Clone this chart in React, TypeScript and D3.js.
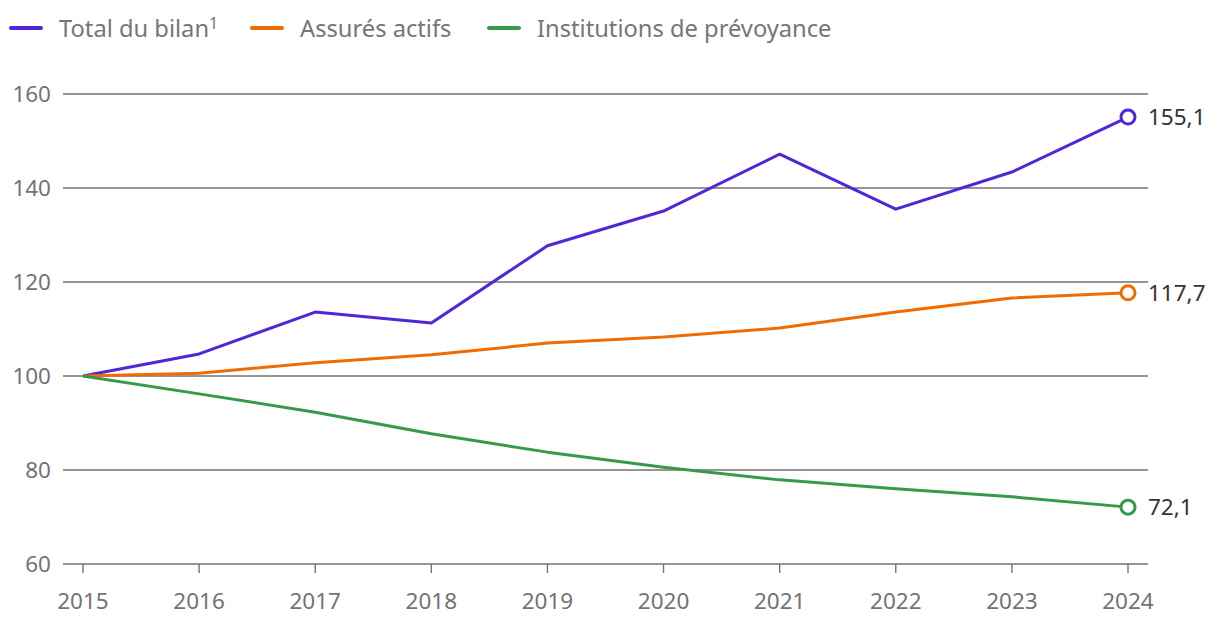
import { useEffect, useRef } from 'react';
import * as d3 from 'd3';

const years = [2015, 2016, 2017, 2018, 2019, 2020, 2021, 2022, 2023, 2024];
const totalBilan = [100, 104.7, 113.6, 111.3, 127.7, 135.1, 147.2, 135.5, 143.4, 155.1];
const assuresActifs = [100, 100.6, 102.8, 104.5, 107.0, 108.3, 110.2, 113.6, 116.6, 117.7];
const institutions = [100, 96.2, 92.3, 87.7, 83.8, 80.6, 77.9, 76.0, 74.3, 72.1];
const yTicks = [60, 80, 100, 120, 140, 160];

const series = [
  { name: 'Total du bilan', sup: '1', color: '#5126d6', values: totalBilan },
  { name: 'Assurés actifs', sup: '', color: '#f26b00', values: assuresActifs },
  { name: 'Institutions de prévoyance', sup: '', color: '#359a4a', values: institutions },
];

const W = 1220;
const H = 632;
const FONT = '"Noto Sans", "Open Sans", sans-serif';

export default function App() {
  const svgRef = useRef<SVGSVGElement>(null);

  useEffect(() => {
    if (!svgRef.current) return;
    const svg = d3.select(svgRef.current);
    svg.selectAll('*').remove();

    const x = d3.scaleLinear().domain([2015, 2024]).range([83, 1128]);
    const y = d3.scaleLinear().domain([60, 160]).range([564, 94]);

    // gridlines
    svg.append('g')
      .selectAll('line')
      .data(yTicks)
      .enter()
      .append('line')
      .attr('x1', 63)
      .attr('x2', 1148)
      .attr('y1', d => y(d))
      .attr('y2', d => y(d))
      .style('stroke', '#737373')
      .style('stroke-width', '1.4px');

    svg.append('g')
      .selectAll('text')
      .data(yTicks)
      .enter()
      .append('text')
      .attr('x', 51)
      .attr('y', d => y(d))
      .attr('dy', '0.36em')
      .style('text-anchor', 'end')
      .style('font-family', FONT)
      .style('font-size', '22.5px')
      .style('fill', '#737373')
      .text(d => d);

    // x ticks
    const xg = svg.append('g');
    xg.selectAll('line')
      .data(years)
      .enter()
      .append('line')
      .attr('x1', d => x(d))
      .attr('x2', d => x(d))
      .attr('y1', 564)
      .attr('y2', 573)
      .style('stroke', '#737373')
      .style('stroke-width', '1.4px');
    xg.selectAll('text')
      .data(years)
      .enter()
      .append('text')
      .attr('x', d => x(d))
      .attr('y', 609)
      .style('text-anchor', 'middle')
      .style('font-family', FONT)
      .style('font-size', '22.5px')
      .style('fill', '#737373')
      .text(d => d);

    const line = d3.line<number>()
      .x((_, i) => x(years[i]))
      .y(d => y(d));

    series.forEach(s => {
      svg.append('path')
        .datum(s.values)
        .attr('d', line)
        .style('fill', 'none')
        .style('stroke', s.color)
        .style('stroke-width', '3px')
        .style('stroke-linejoin', 'round');
      const last = s.values[s.values.length - 1];
      svg.append('circle')
        .attr('cx', x(years[years.length - 1]))
        .attr('cy', y(last))
        .attr('r', 7)
        .style('fill', '#fff')
        .style('stroke', s.color)
        .style('stroke-width', '3px');
      svg.append('text')
        .attr('x', x(years[years.length - 1]) + 20)
        .attr('y', y(last))
        .attr('dy', '0.36em')
        .style('font-family', FONT)
        .style('font-size', '22.5px')
        .style('fill', '#333')
        .text(last.toFixed(1).replace('.', ','));
    });

    // legend
    const legendX = [11, 252, 489];
    series.forEach((s, i) => {
      const g = svg.append('g').attr('transform', `translate(${legendX[i]},28)`);
      g.append('line')
        .attr('x1', 0)
        .attr('x2', 30)
        .style('stroke', s.color)
        .style('stroke-width', '4px')
        .style('stroke-linecap', 'round');
      const t = g.append('text')
        .attr('x', 48)
        .attr('dy', '0.36em')
        .style('font-family', FONT)
        .style('font-size', '23.7px')
        .style('fill', '#767676')
        .text(s.name);
      if (s.sup) {
        t.append('tspan')
          .attr('dy', '-0.5em')
          .style('font-size', '16px')
          .text(s.sup);
      }
    });
  }, []);

  return <svg ref={svgRef} width={W} height={H} style={{ display: 'block', margin: '-8px' }} />;
}
